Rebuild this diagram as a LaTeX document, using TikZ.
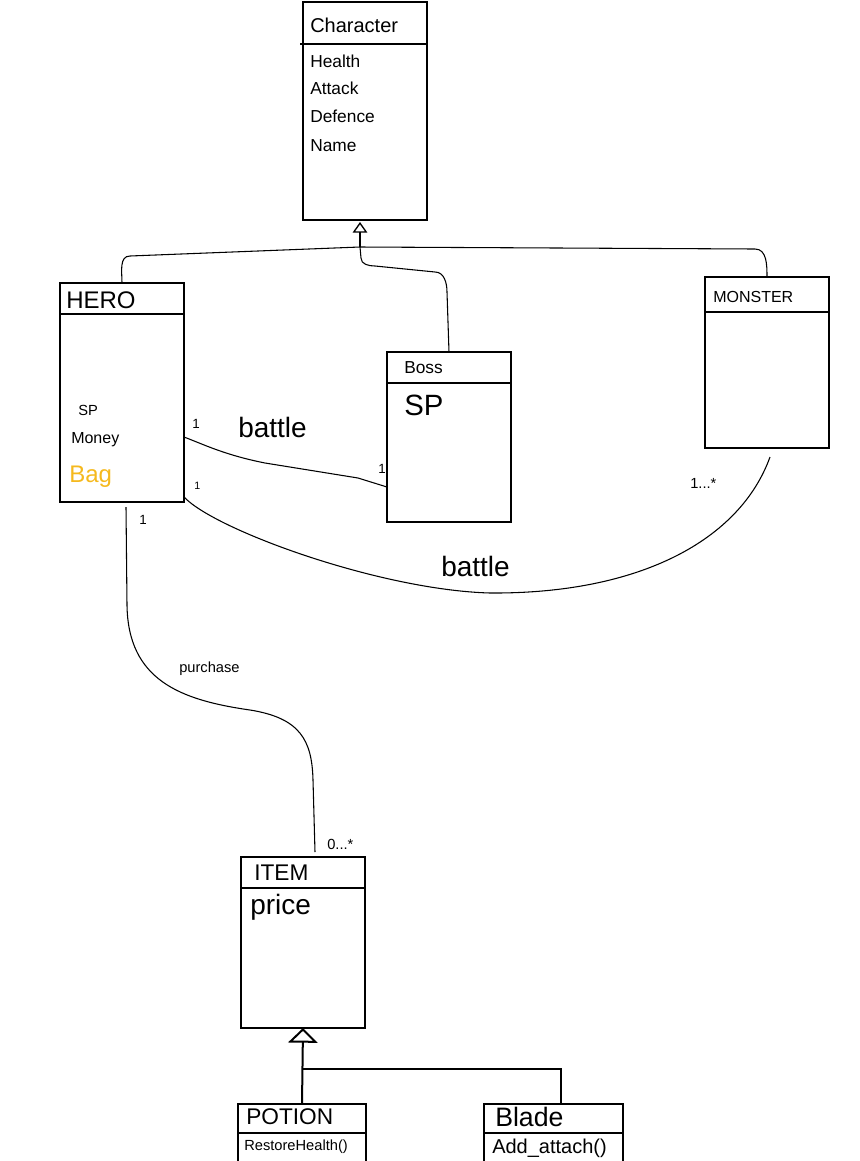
\documentclass[tikz,border=0pt]{standalone}
\usepackage{fontspec}
\setmainfont{Liberation Sans}
\usetikzlibrary{arrows.meta,calc}
\definecolor{bagorange}{RGB}{245,185,30}
\begin{document}
\begin{tikzpicture}[x=0.75pt,y=-0.75pt,
  cls/.style={draw,line width=1.5pt,inner sep=0,outer sep=0},
  cw/.style={minimum width=#1*0.75pt},
  ch/.style={minimum height=#1*0.75pt},
  lbl/.style={inner sep=0,anchor=west},
  fs/.style={font=\fontsize{#1}{#1}\selectfont},
  divider/.style={line width=1.5pt},
  assoc/.style={line width=0.8pt},
  inh/.style={line width=0.8pt},
  inhthick/.style={line width=1.5pt}]
\path[use as bounding box, clip] (0,0) rectangle (860,1161);

% class boxes
\node[cls,cw=124,ch=218] (char) at (365,111) {};
\node[cls,cw=124,ch=219] (hero) at (122,392.5) {};
\node[cls,cw=124,ch=170] (boss) at (449,437) {};
\node[cls,cw=124,ch=171] (monster) at (767,362.5) {};
\node[cls,cw=124,ch=171] (item) at (303,942.5) {};
\node[cls,cw=128,ch=72] (potion) at (302,1140) {};
\node[cls,cw=139,ch=72] (blade) at (553.5,1140) {};

% header dividers
\draw[divider] ($(char.north west)+(-3,42)$) -- ($(char.north east)+(0,42)$);
\draw[divider] ($(hero.north west)+(0,31)$) -- ($(hero.north east)+(0,31)$);
\draw[divider] ($(boss.north west)+(0,31)$) -- ($(boss.north east)+(0,31)$);
\draw[divider] ($(monster.north west)+(0,35)$) -- ($(monster.north east)+(0,35)$);
\draw[divider] ($(item.north west)+(0,31)$) -- ($(item.north east)+(0,31)$);
\draw[divider] ($(potion.north west)+(0,29)$) -- ($(potion.north east)+(0,29)$);
\draw[divider] ($(blade.north west)+(0,29)$) -- ($(blade.north east)+(0,29)$);

% texts
\node[lbl,fs=15] (tchar) at (310,25) {Character};
\node[lbl,fs=13] (thealth) at (310,61) {Health};
\node[lbl,fs=13] (tattack) at (310,88) {Attack};
\node[lbl,fs=13] (tdefence) at (310,116) {Defence};
\node[lbl,fs=13] (tname) at (310,146) {Name};

\node[lbl,fs=18] (thero) at (66,300) {HERO};
\node[lbl,fs=11] (tsp) at (78,410) {SP};
\node[lbl,fs=12] (tmoney) at (71,440) {Money};
\node[lbl,fs=18,text=bagorange] (tbag) at (69,477) {Bag};

\node[lbl,fs=13] (tboss) at (404,368) {Boss};
\node[lbl,fs=22] (tbsp) at (404,405) {SP};

\node[lbl,fs=12] (tmonster) at (713,297) {MONSTER};

\node[lbl,fs=17] (titem) at (254,873) {ITEM};
\node[lbl,fs=21] (tprice) at (250,907) {price};

\node[lbl,fs=17] (tpotion) at (246,1117) {POTION};
\node[lbl,fs=11] (trestore) at (244,1147) {RestoreHealth()};
\node[lbl,fs=20] (tblade) at (495,1117) {Blade};
\node[lbl,fs=15] (tadd) at (492,1148) {Add\_attach()};

% inheritance: Character
\coordinate (j1) at (360,247);
\coordinate (ctip) at ($(char.south)+(-5,2)$);
\draw[inh,-{Triangle[open,length=8pt,width=11pt,line width=1pt]}] (j1) -- (ctip);
\draw[inh] (j1) -- (130,256) to[out=180,in=90] (hero.north);
\draw[inh] (j1) -- (755,249) to[out=0,in=90] (monster.north);
\draw[inh] (j1) -- (361,258) to[out=-90,in=180] (375,266) -- (435,272)
  to[out=0,in=90] (447,292) -- (boss.north);

% inheritance: Item
\coordinate (j2) at (302,1069);
\coordinate (bn) at ($(blade.north)+(7.5,0)$);
\draw[inhthick,-{Triangle[open,length=11pt,width=22pt,line width=1.5pt]}] (potion.north) -- (item.south);
\draw[inhthick] (bn) |- (j2);

% associations
\coordinate (hb1) at ($(hero.east)+(0,44.5)$);
\coordinate (hb2) at ($(boss.west)+(0,50)$);
\draw[assoc] (hb1) .. controls (205,445) and (225,455) .. (265,463) -- (358,478) -- (hb2);

\coordinate (hm1) at ($(hero.south east)+(0,-5)$);
\coordinate (hm2) at ($(monster.south)+(3,9)$);
\draw[assoc] (hm1) .. controls (215,530) and (380,590) .. (490,593)
  .. controls (640,594) and (740,540) .. (hm2);

\coordinate (hi1) at ($(hero.south)+(4,5)$);
\coordinate (hi2) at ($(item.north)+(12,-5)$);
\draw[assoc] (hi1) -- (127,605) .. controls (128,680) and (180,700) .. (250,710)
  .. controls (300,718) and (312,740) .. (313,780) -- (hi2);

% multiplicities and labels
\node[lbl,fs=10] (m1) at (192,424) {1};
\node[lbl,fs=21] (lbattle1) at (238,427) {battle};
\node[lbl,fs=10] (m2) at (378,469) {1};
\node[lbl,fs=8] (m3) at (194,486) {1};
\node[lbl,fs=11] (m4) at (690,483) {1...*};
\node[lbl,fs=21] (lbattle2) at (441,566) {battle};
\node[lbl,fs=10] (m5) at (139,520) {1};
\node[lbl,fs=11] (lpurchase) at (179,669) {purchase};
\node[lbl,fs=11] (m6) at (327,844) {0...*};
\end{tikzpicture}
\end{document}
